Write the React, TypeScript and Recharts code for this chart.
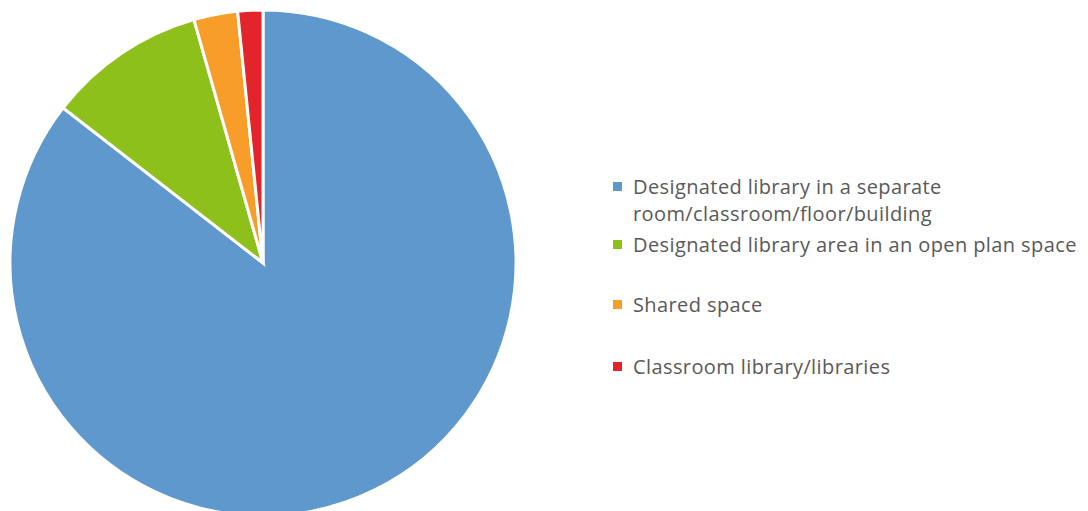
import { PieChart, Pie, Cell, Legend } from 'recharts'

// ─── Data ─────────────────────────────────────────────────────────────────────

const CATEGORIES = [
  'Designated library in a separate room/classroom/floor/building',
  'Designated library area in an open plan space',
  'Shared space',
  'Classroom library/libraries',
]

const SHARES = [85.5, 10.1, 2.8, 1.6]

const COLORS = ['#5F98CC', '#8DC01A', '#F89D2A', '#E3242B']

// legend lines as they wrap in the original
const LEGEND_LINES = [
  ['Designated library in a separate', 'room/classroom/floor/building'],
  ['Designated library area in an open plan space'],
  ['Shared space'],
  ['Classroom library/libraries'],
]

const data = CATEGORIES.map((name, i) => ({ name, value: SHARES[i] }))

// ─── Legend ───────────────────────────────────────────────────────────────────

const ITEM_TOPS = [0, 58, 118, 180]

function SideLegend() {
  return (
    <div style={{ position: 'relative', width: 480, height: 220 }}>
      {LEGEND_LINES.map((lines, i) => (
        <div key={i} style={{ position: 'absolute', left: 0, top: ITEM_TOPS[i] }}>
          <span
            style={{
              position: 'absolute',
              left: 0,
              top: 9,
              width: 9,
              height: 9,
              background: COLORS[i],
            }}
          />
          <div
            style={{
              marginLeft: 20,
              fontFamily: '"Open Sans", sans-serif',
              fontSize: 20,
              letterSpacing: 0.4,
              lineHeight: '27px',
              color: '#595959',
              whiteSpace: 'nowrap',
            }}
          >
            {lines.map((l) => (
              <div key={l}>{l}</div>
            ))}
          </div>
        </div>
      ))}
    </div>
  )
}

// ─── App ──────────────────────────────────────────────────────────────────────

export default function App() {
  return (
    <PieChart width={1072} height={503} margin={{ top: 0, right: 0, bottom: 0, left: 0 }}>
      <Pie
        data={data}
        dataKey="value"
        nameKey="name"
        cx={255}
        cy={255}
        outerRadius={253}
        startAngle={90}
        endAngle={-270}
        stroke="#ffffff"
        strokeWidth={3}
        isAnimationActive={false}
      >
        {data.map((_, i) => (
          <Cell key={`cell-${i}`} fill={COLORS[i]} />
        ))}
      </Pie>
      <Legend
        content={<SideLegend />}
        wrapperStyle={{ left: 605, top: 165, width: 480 }}
      />
    </PieChart>
  )
}
